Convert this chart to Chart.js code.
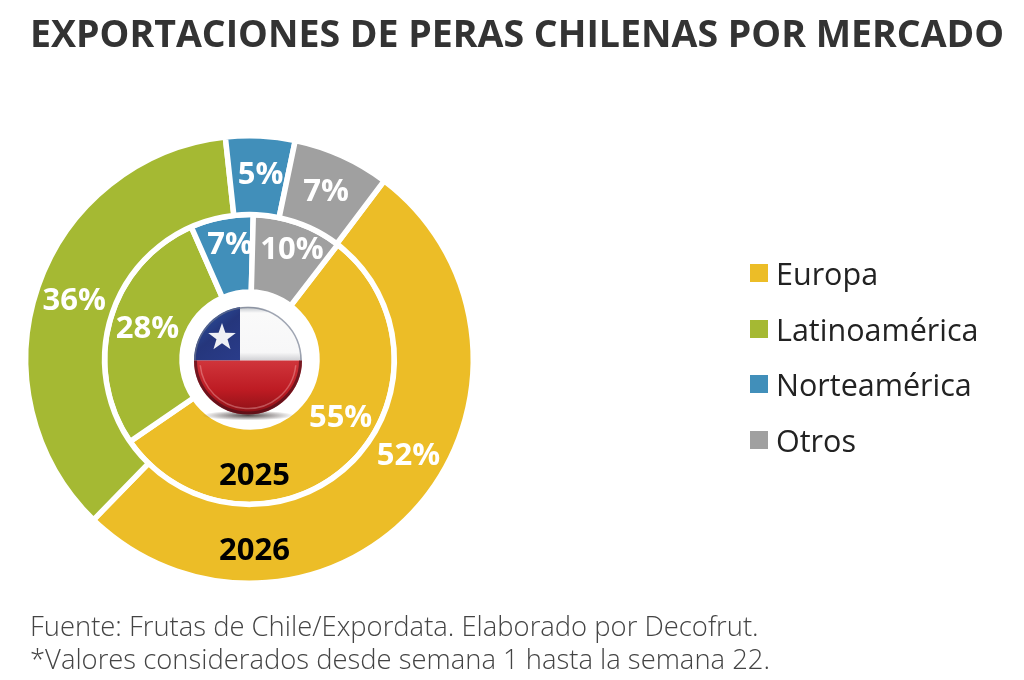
<!DOCTYPE html>
<html lang="es">
<head>
<meta charset="utf-8">
<title>Exportaciones de peras chilenas por mercado</title>
<script src="https://cdn.jsdelivr.net/npm/chart.js@4"></script>
<style>
  html, body { margin: 0; padding: 0; background: #fff; }
  body { position: relative; width: 1024px; height: 680px; overflow: hidden; font-family: "Open Sans", sans-serif; }
  canvas { position: absolute; left: 0; top: 0; }
  #title { position: absolute; left: 30px; top: 8px; font-size: 37.5px; font-weight: 700; color: #333; white-space: nowrap; line-height: 50px; }
  #legend { position: absolute; left: 750px; top: 245.5px; }
  .item { height: 55.5px; display: flex; align-items: center; font-size: 30.5px; color: #222; white-space: nowrap; }
  .box { width: 18px; height: 18px; margin-right: 8px; }
  #source { position: absolute; left: 30px; top: 609px; font-size: 27.4px; font-weight: 300; color: #444; line-height: 33px; white-space: nowrap; }
</style>
</head>
<body>
<canvas id="chart" width="1024" height="680"></canvas>
<div id="title">EXPORTACIONES DE PERAS CHILENAS POR MERCADO</div>
<div id="legend"></div>
<div id="source">Fuente: Frutas de Chile/Expordata. Elaborado por Decofrut.<br>*Valores considerados desde semana 1 hasta la semana 22.</div>
<script>
const markets = ["Europa", "Latinoamérica", "Norteamérica", "Otros"];
const colors = ["#ecbd27", "#a5b933", "#418fba", "#a0a0a0"];
const values2026 = [52, 36, 5, 7];
const values2025 = [55, 28, 7, 10];

// label shifts from the middle of each slice, the original doesn't center them
const shifts2026 = [[19, -25], [-1, 0], [2, -2], [0.5, -1]];
const shifts2025 = [[18, -20], [0, -3.5], [1, -12], [7, -11]];

const legend = document.getElementById("legend");
markets.forEach((name, i) => {
  const row = document.createElement("div");
  row.className = "item";
  row.innerHTML = `<span class="box" style="background:${colors[i]}"></span>${name}`;
  legend.appendChild(row);
});

const sliceLabels = {
  id: "sliceLabels",
  afterDatasetsDraw(chart) {
    const ctx = chart.ctx;
    ctx.save();
    ctx.textAlign = "center";
    ctx.textBaseline = "middle";
    ctx.font = "700 31px 'Open Sans'";
    ctx.fillStyle = "#fff";
    [shifts2026, shifts2025].forEach((shifts, d) => {
      chart.getDatasetMeta(d).data.forEach((arc, i) => {
        const p = arc.getCenterPoint();
        ctx.fillText(chart.data.datasets[d].data[i] + "%", p.x + shifts[i][0], p.y + shifts[i][1] + 2);
      });
    });
    // year names at the bottom of each ring
    ctx.fillStyle = "#000";
    const cx = chart.getDatasetMeta(0).data[0].x;
    const cy = chart.getDatasetMeta(0).data[0].y;
    chart.data.datasets.forEach((ds, d) => {
      const arc = chart.getDatasetMeta(d).data[0];
      ctx.fillText(ds.label, cx + 5, cy + (arc.innerRadius + arc.outerRadius) / 2 + (d === 0 ? 7 : 10));
    });
    ctx.restore();
  }
};

// flag button in the hole
const flag = {
  id: "flag",
  afterDraw(chart) {
    const ctx = chart.ctx;
    const arc = chart.getDatasetMeta(0).data[0];
    const x = arc.x - 1.5, y = arc.y + 1, r = 54;
    ctx.save();

    const shadow = ctx.createRadialGradient(0, 0, 0, 0, 0, 1);
    shadow.addColorStop(0, "rgba(40,30,30,0.8)");
    shadow.addColorStop(1, "rgba(40,30,30,0)");
    ctx.save();
    ctx.translate(x, y + r + 1);
    ctx.scale(46, 5);
    ctx.fillStyle = shadow;
    ctx.beginPath();
    ctx.arc(0, 0, 1, 0, Math.PI * 2);
    ctx.fill();
    ctx.restore();

    ctx.save();
    ctx.beginPath();
    ctx.arc(x, y, r, 0, Math.PI * 2);
    ctx.clip();
    const white = ctx.createLinearGradient(0, y - r, 0, y);
    white.addColorStop(0, "#b9bec4");
    white.addColorStop(0.12, "#fafafa");
    white.addColorStop(0.85, "#f7f7f8");
    white.addColorStop(1, "#d0d0d4");
    ctx.fillStyle = white;
    ctx.fillRect(x - r, y - r, 2 * r, r);
    const blue = ctx.createLinearGradient(x - r, y - r, x - 8, y);
    blue.addColorStop(0, "#2c5bab");
    blue.addColorStop(0.5, "#25367c");
    blue.addColorStop(1, "#2a3c8a");
    ctx.fillStyle = blue;
    ctx.fillRect(x - r, y - r, r - 8, r);
    const red = ctx.createLinearGradient(0, y, 0, y + r);
    red.addColorStop(0, "#d0353b");
    red.addColorStop(0.55, "#bd1b23");
    red.addColorStop(1, "#8a1016");
    ctx.fillStyle = red;
    ctx.fillRect(x - r, y, 2 * r, r);
    ctx.restore();

    ctx.strokeStyle = "rgba(80,15,25,0.7)";
    ctx.lineWidth = 3;
    ctx.beginPath();
    ctx.arc(x, y, r - 1.5, 0, Math.PI);
    ctx.stroke();
    ctx.strokeStyle = "rgba(255,200,200,0.35)";
    ctx.lineWidth = 1.5;
    ctx.beginPath();
    ctx.arc(x, y, r - 6, 0.1, Math.PI - 0.1);
    ctx.stroke();
    ctx.strokeStyle = "rgba(110,120,140,0.65)";
    ctx.lineWidth = 1.5;
    ctx.beginPath();
    ctx.arc(x, y, r - 1, Math.PI, Math.PI * 2);
    ctx.stroke();

    // star
    const sx = x - 26, sy = y - 23, so = 14.5, si = 5.8;
    ctx.fillStyle = "#eef0f5";
    ctx.beginPath();
    for (let i = 0; i < 10; i++) {
      const a = -Math.PI / 2 + i * Math.PI / 5;
      const rad = i % 2 ? si : so;
      ctx.lineTo(sx + rad * Math.cos(a), sy + rad * Math.sin(a));
    }
    ctx.closePath();
    ctx.fill();
    ctx.restore();
  }
};

new Chart(document.getElementById("chart"), {
  type: "doughnut",
  data: {
    labels: markets,
    datasets: [
      { label: "2026", data: values2026, backgroundColor: colors, rotation: 37, weight: 79 },
      { label: "2025", data: values2025, backgroundColor: colors, rotation: 37.5, weight: 77.5 }
    ]
  },
  options: {
    responsive: false,
    animation: false,
    devicePixelRatio: 1,
    cutout: 67.5,
    borderColor: "#fff",
    borderWidth: 5.5,
    layout: { padding: { left: 23, right: 548, top: 133, bottom: 94 } },
    plugins: { legend: { display: false }, tooltip: { enabled: false } }
  },
  plugins: [sliceLabels, flag]
});
</script>
</body>
</html>
